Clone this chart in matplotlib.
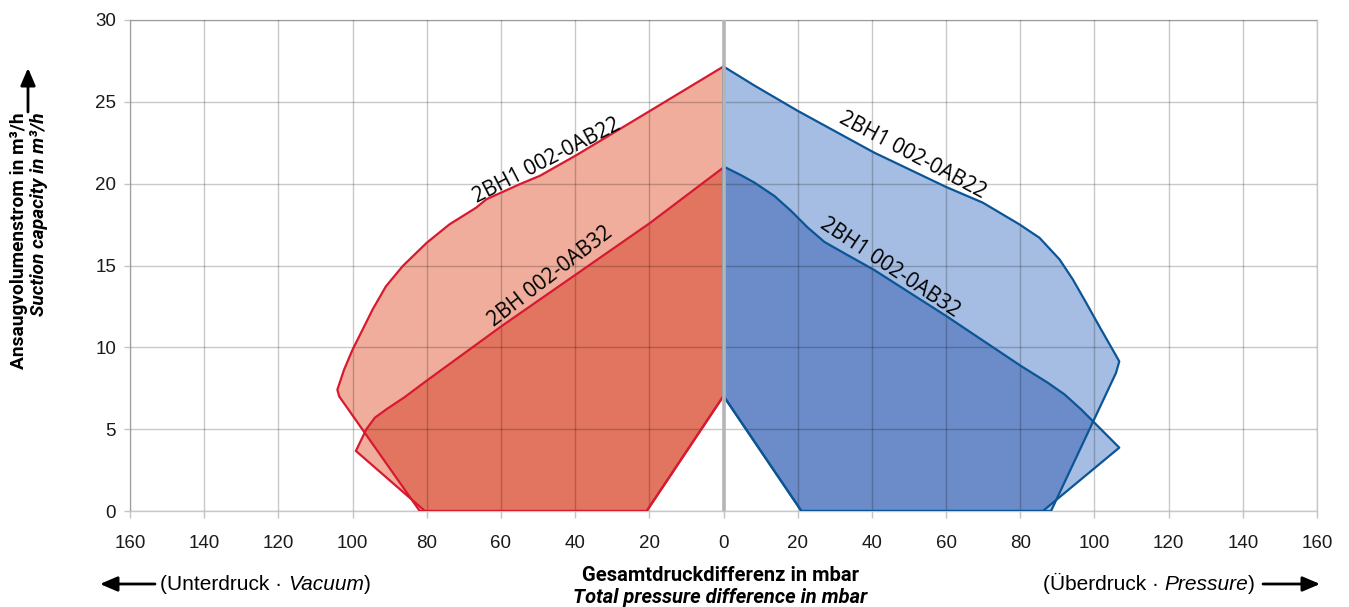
import matplotlib
matplotlib.use("Agg")
import matplotlib.pyplot as plt
from matplotlib.patches import Polygon, FancyArrowPatch

# ---------------- data ----------------
# Vacuum side (negative x = vacuum in mbar), values in m3/h
vac_22_x = [0, -19.8, -39.6, -49.5, -54.9, -63.9, -66.7, -73.9, -80.0, -86.5, -91.0, -94.6, -97.3, -100.0, -102.3, -104.1, -103.6, -81.9, -20.7, 0]
vac_22_y = [27.16, 24.45, 21.75, 20.48, 19.97, 19.05, 18.53, 17.51, 16.39, 14.96, 13.73, 12.31, 11.08, 9.86, 8.63, 7.41, 7.0, 0, 0, 7.03]

vac_32_x = [0, -19.8, -59.8, -80.1, -86.0, -90.9, -94.0, -96.3, -99.1, -80.5, -20.7, 0]
vac_32_y = [20.99, 17.6, 11.3, 7.95, 6.95, 6.21, 5.7, 4.99, 3.67, 0, 0, 7.03]

# Pressure side
prs_22_x = [0, 8.3, 20.0, 40.6, 60.0, 69.9, 79.8, 85.2, 90.6, 94.2, 97.8, 101.3, 104.9, 106.7, 105.8, 88.3, 21.0, 0]
prs_22_y = [27.16, 26.0, 24.45, 21.9, 19.8, 18.84, 17.51, 16.69, 15.37, 14.14, 12.71, 11.29, 9.86, 9.14, 8.43, 0, 0, 7.03]

prs_32_x = [0, 4.7, 8.3, 13.7, 18.2, 22.7, 27.2, 33.5, 40.6, 60.0, 80.2, 87.4, 91.9, 96.4, 106.7, 86.1, 21.0, 0]
prs_32_y = [21.05, 20.52, 20.07, 19.25, 18.34, 17.32, 16.44, 15.63, 14.73, 11.92, 8.86, 7.84, 7.13, 6.21, 3.87, 0, 0, 7.03]

curve_labels = ["2BH1 002-0AB22", "2BH 002-0AB32", "2BH1 002-0AB22", "2BH1 002-0AB32"]
label_x = [-47.7, -46.7, 51.0, 44.8]
label_y = [21.4, 14.3, 21.7, 14.9]
label_rot = [27.3, 37.6, -28.0, -33.7]

x_ticks = [-160, -140, -120, -100, -80, -60, -40, -20, 0, 20, 40, 60, 80, 100, 120, 140, 160]
x_tick_labels = [str(abs(t)) for t in x_ticks]
y_ticks = [0, 5, 10, 15, 20, 25, 30]

# ---------------- style ----------------
RED_LIGHT = "#f0ad9c"
RED_DARK = "#e2755f"
RED_EDGE = "#d71a2f"
BLUE_LIGHT = "#a5bde2"
BLUE_DARK = "#6b8cc8"
BLUE_EDGE = "#0b5596"

W, H = 1349, 607
fig = plt.figure(figsize=(W / 100, H / 100), dpi=100)
ax = fig.add_axes([130 / W, 1 - 511 / H, (1317 - 130) / W, (511 - 20) / H])
ax.set_xlim(-160, 160)
ax.set_ylim(0, 30)


def draw_pair(x_out, y_out, x_in, y_in, light, dark, edge):
    p_out = Polygon(list(zip(x_out, y_out)), closed=True, fc=light, ec="none", zorder=1)
    ax.add_patch(p_out)
    p_in = Polygon(list(zip(x_in, y_in)), closed=True, fc=light, ec="none", zorder=1)
    ax.add_patch(p_in)
    p_ov = Polygon(list(zip(x_in, y_in)), closed=True, fc=dark, ec="none", zorder=1.5)
    ax.add_patch(p_ov)
    p_ov.set_clip_path(p_out)
    for xs, ys in ((x_out, y_out), (x_in, y_in)):
        ax.plot(list(xs) + [xs[0]], list(ys) + [ys[0]], color=edge, lw=1.6,
                solid_joinstyle="round", zorder=3)


draw_pair(vac_22_x, vac_22_y, vac_32_x, vac_32_y, RED_LIGHT, RED_DARK, RED_EDGE)
draw_pair(prs_22_x, prs_22_y, prs_32_x, prs_32_y, BLUE_LIGHT, BLUE_DARK, BLUE_EDGE)

ax.axvline(0, color="#b5b5b5", lw=2.6, zorder=4)

ax.set_axisbelow(False)
ax.grid(True, color="black", alpha=0.21, lw=1.0)
ax.set_xticks(x_ticks)
ax.set_xticklabels(x_tick_labels)
ax.set_yticks(y_ticks)
for s in ax.spines.values():
    s.set_color("#c9c9c9")
    s.set_linewidth(1.0)
ax.tick_params(axis="x", direction="out", length=5, width=1, color="#c4c4c4",
               labelsize=13.5, labelcolor="#1a1a1a", pad=12)
ax.tick_params(axis="y", direction="out", length=4, width=1, color="#c4c4c4",
               labelsize=13.5, labelcolor="#1a1a1a", pad=6)
for lab in ax.get_xticklabels() + ax.get_yticklabels():
    lab.set_family("Liberation Sans")

for txt, lx, ly, rot in zip(curve_labels, label_x, label_y, label_rot):
    ax.text(lx, ly, txt, rotation=rot, rotation_mode="anchor", ha="center", va="center",
            fontsize=15, family="Open Sans", color="black", zorder=5)

# ---------------- outer texts ----------------
fx = lambda px: px / W
fy = lambda py: 1 - py / H

fig.text(fx(19), fy(112), "Ansaugvolumenstrom in m³/h", rotation=90, ha="center", va="top",
         fontsize=13.8, fontweight="bold", family="Roboto")
fig.text(fx(39), fy(112), "Suction capacity in m³/h", rotation=90, ha="center", va="top",
         fontsize=13.8, fontweight="bold", style="italic", family="Roboto")
arrow_kw = dict(arrowstyle="-|>,head_length=0.7,head_width=0.3", lw=2, color="black",
                mutation_scale=15, shrinkA=0, shrinkB=0)
fig.add_artist(FancyArrowPatch((fx(28), fy(112)), (fx(28), fy(68)),
                               transform=fig.transFigure, **arrow_kw))

fig.text(fx(720), fy(575.5), "Gesamtdruckdifferenz in mbar", ha="center", va="center",
         fontsize=14.5, fontweight="bold", family="Roboto")
fig.text(fx(720), fy(597.5), "Total pressure difference in mbar", ha="center", va="center",
         fontsize=14.5, fontweight="bold", style="italic", family="Roboto")

fig.canvas.draw()
renderer = fig.canvas.get_renderer()


def chain(x0_px, y_px, parts, size):
    x = x0_px
    for s, st in parts:
        t = fig.text(fx(x), fy(y_px), s, ha="left", va="baseline", fontsize=size,
                     family="Liberation Sans", style=st)
        bb = t.get_window_extent(renderer)
        x += bb.width
    return x


chain(160, 590, [("(Unterdruck · ", "normal"), ("Vacuum", "italic"), (")", "normal")], 15)
chain(1043, 590, [("(Überdruck · ", "normal"), ("Pressure", "italic"), (")", "normal")], 15)

fig.add_artist(FancyArrowPatch((fx(155), fy(584)), (fx(100), fy(584)),
                               transform=fig.transFigure, **arrow_kw))
fig.add_artist(FancyArrowPatch((fx(1263), fy(584)), (fx(1320), fy(584)),
                               transform=fig.transFigure, **arrow_kw))

fig.savefig("out.png", dpi=100)
